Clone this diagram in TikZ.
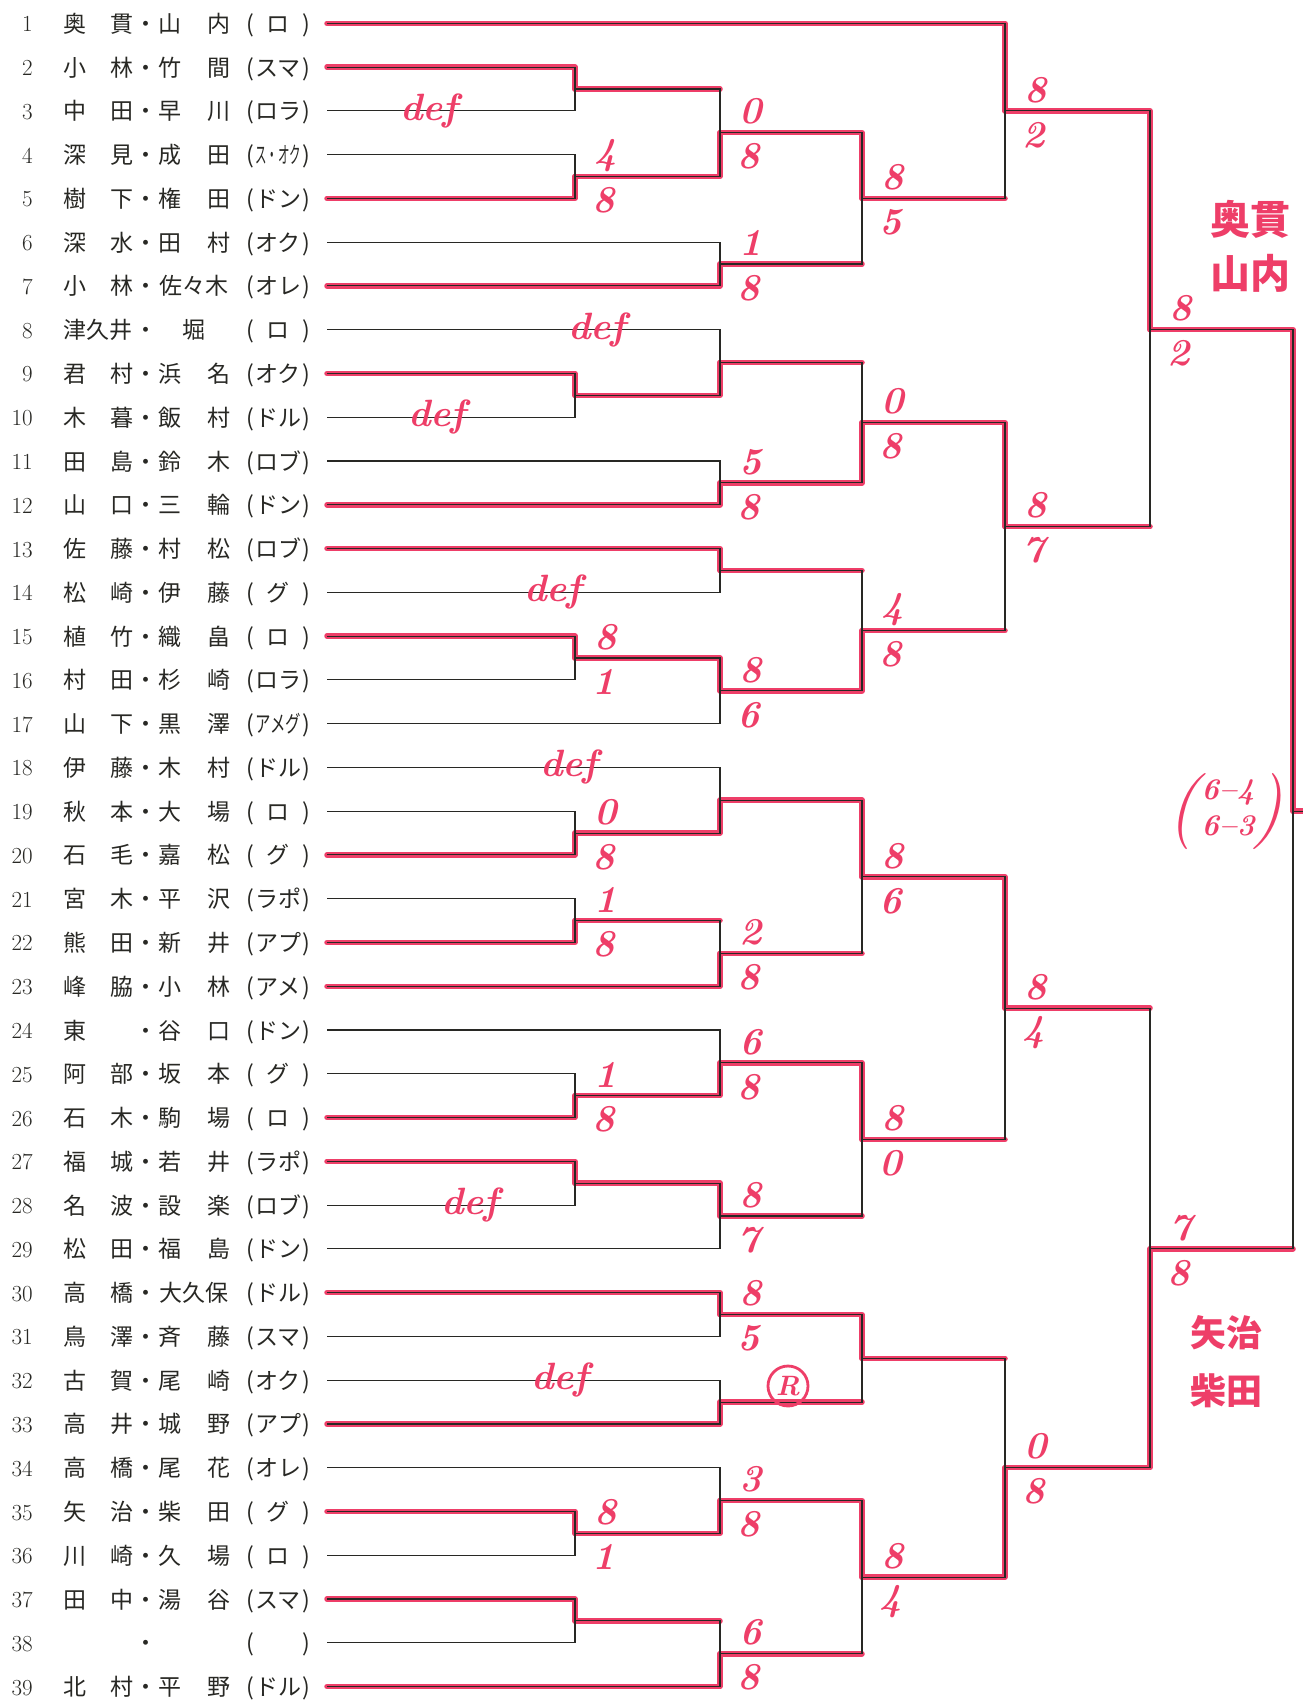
\documentclass[tikz,border=0pt]{standalone}
\usepackage{fontspec}
\usepackage{graphicx}
\newfontfamily\jp{Noto Sans CJK JP}
\definecolor{marker}{RGB}{238,62,104}
\definecolor{ink}{RGB}{40,40,36}
\newcommand{\rowy}[1]{23.3+(#1-1)*43.77}
\newcommand{\games}{r1g1/575/2.5/e2/e3/0, r1g2/575/4.5/e5/e4/0, r1g3/575/9.5/e9/e10/0, r1g4/575/15.5/e15/e16/0,
 r1g5/575/19.5/e20/e19/0, r1g6/575/21.5/e22/e21/0, r1g7/575/25.5/e26/e25/0, r1g8/575/27.5/e27/e28/0,
 r1g9/575/35.5/e35/e36/0, r1g10/575/37.5/e37/e38/0,
 r2g1/720/3.5/r1g2/r1g1/1, r2g2/720/6.5/e7/e6/0, r2g3/720/8.75/r1g3/e8/0, r2g4/720/11.5/e12/e11/0,
 r2g5/720/13.5/e13/e14/0, r2g6/720/16.25/r1g4/e17/0, r2g7/720/18.75/r1g5/e18/0, r2g8/720/22.25/e23/r1g6/1,
 r2g9/720/24.75/r1g7/e24/0, r2g10/720/28.25/r1g8/e29/0, r2g11/720/30.5/e30/e31/0, r2g12/720/32.5/e33/e32/0,
 r2g13/720/34.75/r1g9/e34/0, r2g14/720/38.25/e39/r1g10/1,
 r3g1/862/5/r2g1/r2g2/1, r3g2/862/10.125/r2g4/r2g3/1, r3g3/862/14.875/r2g6/r2g5/1, r3g4/862/20.5/r2g7/r2g8/1,
 r3g5/862/26.5/r2g9/r2g10/1, r3g6/862/31.5/r2g11/r2g12/1, r3g7/862/36.5/r2g13/r2g14/1,
 r4g1/1005/3/e1/r3g1/1, r4g2/1005/12.5/r3g2/r3g3/1, r4g3/1005/23.5/r3g4/r3g5/1, r4g4/1005/34/r3g7/r3g6/1,
 r5g1/1150/8/r4g1/r4g2/1, r5g2/1150/29/r4g4/r4g3/1,
 r6g1/1293/19/r5g1/r5g2/1}

\begin{document}
\begin{tikzpicture}[x=1pt,y=-1pt,
 wire/.style={draw=ink,line width=1.1pt},
 win/.style={draw=marker,line width=5.5pt,line cap=round,line join=round},
 num/.style={anchor=base east,inner sep=0pt,text=ink,font=\fontsize{23}{23}\selectfont},
 player/.style={anchor=base west,inner sep=0pt,text=ink,font=\jp\fontsize{23}{23}\selectfont},
 hand/.style={inner sep=0pt,text=marker,font=\fontsize{38}{38}\selectfont\bfseries\itshape},
 retire/.style={circle,draw=marker,line width=2.8pt,inner sep=1pt,minimum size=40pt,text=marker,font=\fontsize{28}{28}\selectfont\bfseries\itshape}]
\fill[white] (0,0) rectangle (1303,1701);
\useasboundingbox (0,0) rectangle (1303,1701);
\foreach \i/\s/\g/\c in {1/{奥\hfill 貫}/{山\hfill 内}/ロ, 2/{小\hfill 林}/{竹\hfill 間}/スマ, 3/{中\hfill 田}/{早\hfill 川}/ロラ,
 4/{深\hfill 見}/{成\hfill 田}/{\scalebox{.5}[1]{ス・オク}}, 5/{樹\hfill 下}/{権\hfill 田}/ドン, 6/{深\hfill 水}/{田\hfill 村}/オク,
 7/{小\hfill 林}/佐々木/オレ, 8/津久井/堀/ロ, 9/{君\hfill 村}/{浜\hfill 名}/オク, 10/{木\hfill 暮}/{飯\hfill 村}/ドル,
 11/{田\hfill 島}/{鈴\hfill 木}/ロブ, 12/{山\hfill 口}/{三\hfill 輪}/ドン, 13/{佐\hfill 藤}/{村\hfill 松}/ロブ,
 14/{松\hfill 崎}/{伊\hfill 藤}/グ, 15/{植\hfill 竹}/{織\hfill 畠}/ロ, 16/{村\hfill 田}/{杉\hfill 崎}/ロラ,
 17/{山\hfill 下}/{黒\hfill 澤}/{\scalebox{.67}[1]{アメグ}}, 18/{伊\hfill 藤}/{木\hfill 村}/ドル, 19/{秋\hfill 本}/{大\hfill 場}/ロ,
 20/{石\hfill 毛}/{嘉\hfill 松}/グ, 21/{宮\hfill 木}/{平\hfill 沢}/ラポ, 22/{熊\hfill 田}/{新\hfill 井}/アプ,
 23/{峰\hfill 脇}/{小\hfill 林}/アメ, 24/{東\hfill}/{谷\hfill 口}/ドン, 25/{阿\hfill 部}/{坂\hfill 本}/グ,
 26/{石\hfill 木}/{駒\hfill 場}/ロ, 27/{福\hfill 城}/{若\hfill 井}/ラポ, 28/{名\hfill 波}/{設\hfill 楽}/ロブ,
 29/{松\hfill 田}/{福\hfill 島}/ドン, 30/{高\hfill 橋}/大久保/ドル, 31/{鳥\hfill 澤}/{斉\hfill 藤}/スマ,
 32/{古\hfill 賀}/{尾\hfill 崎}/オク, 33/{高\hfill 井}/{城\hfill 野}/アプ, 34/{高\hfill 橋}/{尾\hfill 花}/オレ,
 35/{矢\hfill 治}/{柴\hfill 田}/グ, 36/{川\hfill 崎}/{久\hfill 場}/ロ, 37/{田\hfill 中}/{湯\hfill 谷}/スマ,
 38/{}/{}/{}, 39/{北\hfill 村}/{平\hfill 野}/ドル}{
 \coordinate (e\i) at (327,{\rowy{\i}});
 \node[num] (n\i) at (33,{\rowy{\i}+8.5}) {\i};
 \node[player] (p\i) at (63,{\rowy{\i}+9}) {\makebox[70pt]{\s}\makebox[25pt]{・}\makebox[72pt]{\g}\hspace{15pt}\makebox[10pt]{(}\makebox[46pt]{\c}\makebox[10pt]{)}};
}
\foreach \m/\x/\r/\w/\l/\lr in \games{
 \coordinate (\m) at (\x,{\rowy{\r}});
 \draw[win] (\w) -- (\w -| \m) -- (\m);
 \ifnum\lr=1 \draw[win] (\l) -- (\l -| \m);\fi
}
\coordinate (champ) at (1303,{\rowy{19}});
\draw[win] (r6g1) -- (champ);
\foreach \m/\x/\r/\w/\l/\lr in \games{\draw[wire] (\w) -- (\w -| \m) -- (\l -| \m) -- (\l);}
\draw[wire] (r6g1) -- (champ);
\foreach \m/\u/\d in {r1g2/4/8, r1g4/8/1, r1g5/0/8, r1g6/1/8, r1g7/1/8, r1g9/8/1,
 r2g1/0/8, r2g2/1/8, r2g4/5/8, r2g6/8/6, r2g8/2/8, r2g9/6/8, r2g10/8/7, r2g11/8/5, r2g13/3/8, r2g14/6/8,
 r3g1/8/5, r3g2/0/8, r3g3/4/8, r3g4/8/6, r3g5/8/0, r3g7/8/4,
 r4g1/8/2, r4g2/8/7, r4g3/8/4, r4g4/0/8, r5g1/8/2, r5g2/7/8}{
 \node[hand] (\m u) at ([shift={(31,-21)}]\m) {\u};
 \node[hand] (\m d) at ([shift={(29,24)}]\m) {\d};
}
\foreach \r/\x [count=\k] in {3/429, 8/597, 10/437, 14/553, 18/569, 28/470, 32/560}
 \node[hand] (def\k) at (\x,{\rowy{\r}}) {def};
\node[retire] (rtd) at (788,1386) {R};
\node[hand,font=\fontsize{30}{36}\selectfont\bfseries\itshape,align=left] (sets) at (1228,808) {6--4\\6--3};
\node[hand,font=\fontsize{76}{76}\selectfont\itshape] (setl) at (1183,812) {(};
\node[hand,font=\fontsize{76}{76}\selectfont\itshape] (setr) at (1268,812) {)};
\node[hand,font=\jp\bfseries\fontsize{40}{54}\selectfont,align=center] (top) at (1250,246) {奥貫\\山内};
\node[hand,font=\jp\bfseries\fontsize{36}{58}\selectfont,align=center] (bottom) at (1226,1362) {矢治\\柴田};
\end{tikzpicture}
\end{document}
